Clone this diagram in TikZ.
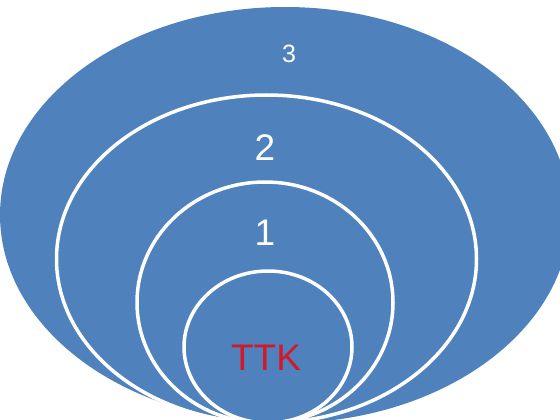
\documentclass[tikz,border=0pt]{standalone}
\usepackage{fontspec}
\setmainfont{Liberation Sans}
\definecolor{ringblue}{RGB}{79,129,189}
\definecolor{ttkred}{RGB}{214,24,38}
\begin{document}
\begin{tikzpicture}[x=1pt,y=-1pt,
  ring/.style={draw=white,line width=3.5pt},
  lbl/.style={text=white,inner sep=0pt,font=\fontsize{37}{40}\selectfont}]
\useasboundingbox (0,0) rectangle (560,420);
\begin{scope}
\clip (0,0) rectangle (560,420);
\fill[ringblue] (285,215) ellipse [x radius=285pt, y radius=208pt];
\draw[ring] (266.5,259) ellipse [x radius=210pt, y radius=164pt];
\draw[ring] (265,302.5) ellipse [x radius=128pt, y radius=120.5pt];
\draw[ring] (268,347) ellipse [x radius=84pt, y radius=76pt];
\end{scope}
\node[lbl,font=\fontsize{25}{28}\selectfont] (l3) at (289,54) {3};
\node[lbl] (l2) at (265,147.5) {2};
\node[lbl] (l1) at (265,233) {1};
\node[lbl,text=ttkred] (ttk) at (266,358) {TTK};
\end{tikzpicture}
\end{document}
